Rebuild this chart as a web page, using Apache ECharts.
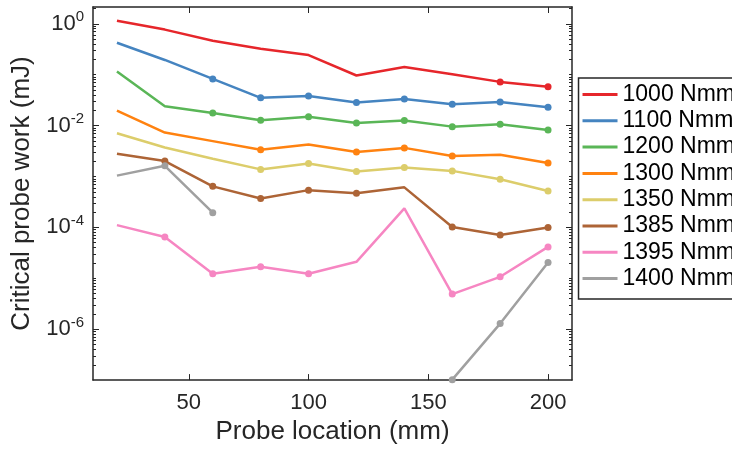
<!DOCTYPE html>
<html>
<head>
<meta charset="utf-8">
<script src="https://cdn.jsdelivr.net/npm/echarts@6/dist/echarts.min.js"></script>
<style>
  html, body { margin: 0; padding: 0; background: #fff; }
  #chart { width: 732px; height: 450px; }
</style>
</head>
<body>
<div id="chart"></div>
<script>
// probe locations (mm)
var probeX = [20, 40, 60, 80, 100, 120, 140, 160, 180, 200];

var seriesNames = ['1000 Nmm', '1100 Nmm', '1200 Nmm', '1300 Nmm', '1350 Nmm', '1385 Nmm', '1395 Nmm', '1400 Nmm'];
var colors = ['#E6262B', '#4584C0', '#5AB657', '#FF8210', '#DCCD6B', '#AD6436', '#F686C2', '#A0A0A0'];

// critical probe work (mJ)
var w1000 = [1.15, 0.77, 0.466, 0.325, 0.243, 0.0965, 0.142, 0.102, 0.0723, 0.0578];
var w1100 = [0.425, 0.195, 0.0828, 0.0352, 0.0382, 0.0284, 0.0332, 0.0264, 0.029, 0.0229];
var w1200 = [0.1155, 0.0239, 0.0177, 0.0127, 0.015, 0.0113, 0.01265, 0.00955, 0.0106, 0.0082];
var w1300 = [0.0196, 0.0073, 0.00496, 0.00335, 0.00426, 0.00302, 0.00365, 0.00252, 0.00268, 0.00184];
var w1350 = [0.0071, 0.00372, 0.00224, 0.00138, 0.00181, 0.00125, 0.00151, 0.00129, 0.00088, 0.00052];
var w1385 = [0.00281, 0.00201, 0.00064, 0.00037, 0.00054, 0.000468, 0.000612, 0.000102, 0.0000711, 0.0001];
var w1395 = [0.000111, 0.000065, 0.0000123, 0.0000169, 0.0000123, 0.0000211, 0.000236, 0.0000049, 0.0000107, 0.0000414];
var w1400 = [0.00104, 0.00162, 0.000195, null, null, null, null, 1.02e-7, 0.00000129, 0.0000204];

// locations that carry a marker
var marks1000 = [180, 200];
var marks1100 = [60, 80, 100, 120, 140, 160, 180, 200];
var marks1200 = [60, 80, 100, 120, 140, 160, 180, 200];
var marks1300 = [80, 120, 140, 160, 200];
var marks1350 = [80, 100, 120, 140, 160, 180, 200];
var marks1385 = [40, 60, 80, 100, 120, 160, 180, 200];
var marks1395 = [40, 60, 80, 100, 160, 180, 200];
var marks1400 = [40, 60, 160, 180, 200];

var xTicks = [50, 100, 150, 200];
var yTicks = [1e-6, 1e-4, 1e-2, 1];

var allWork = [w1000, w1100, w1200, w1300, w1350, w1385, w1395, w1400];
var allMarks = [marks1000, marks1100, marks1200, marks1300, marks1350, marks1385, marks1395, marks1400];

var yMin = 1e-7, yMax = 2.14;
var axisColor = '#262626';
var font = 'Liberation Sans, Arial, Helvetica, sans-serif';

// minor ticks: 1..9 x 10^k that are not labelled
var yMinor = [];
for (var k = -7; k <= 0; k++) {
  for (var m = 1; m <= 9; m++) {
    var v = m * Math.pow(10, k);
    if (v > yMin * 1.001 && v < yMax && yTicks.indexOf(v) < 0) yMinor.push(v);
  }
}

function supLabel(val) {
  var e = Math.round(Math.log10(val));
  return '{b|10}{s|' + (e < 0 ? '-' + (-e) : e) + '}';
}

var chart = echarts.init(document.getElementById('chart'));

var series = seriesNames.map(function (name, i) {
  return {
    name: name,
    type: 'line',
    xAxisIndex: 0,
    yAxisIndex: 0,
    showSymbol: true,
    symbolSize: 7,
    lineStyle: { width: 2.5, color: colors[i] },
    itemStyle: { color: colors[i], borderWidth: 0 },
    emphasis: { disabled: true },
    data: probeX.map(function (x, j) {
      var y = allWork[i][j];
      return {
        value: [x, y == null ? '-' : y],
        symbol: allMarks[i].indexOf(x) >= 0 ? 'circle' : 'none'
      };
    })
  };
});

function yAxisDef(pos, major) {
  return {
    type: 'log',
    logBase: 10,
    position: pos,
    min: yMin,
    max: yMax,
    name: (pos === 'left' && major) ? 'Critical probe work (mJ)' : '',
    nameLocation: 'middle',
    nameGap: 56,
    nameTextStyle: { fontSize: 26, color: axisColor, fontFamily: font },
    axisLine: { show: major, lineStyle: { color: axisColor, width: 1.5 } },
    axisTick: {
      show: true,
      inside: true,
      length: major ? 6 : 3,
      customValues: major ? yTicks : yMinor,
      lineStyle: { color: axisColor, width: 1 }
    },
    axisLabel: {
      show: pos === 'left' && major,
      customValues: yTicks,
      margin: 9,
      formatter: supLabel,
      rich: {
        b: { fontSize: 22, lineHeight: 22, color: axisColor, fontFamily: font, verticalAlign: 'bottom' },
        s: { fontSize: 15, lineHeight: 15, padding: [0, 0, 13, 0], color: axisColor, fontFamily: font }
      }
    },
    splitLine: { show: false }
  };
}

function xAxisDef(pos) {
  return {
    type: 'value',
    position: pos,
    min: 10,
    max: 210,
    name: pos === 'bottom' ? 'Probe location (mm)' : '',
    nameLocation: 'middle',
    nameGap: 38,
    nameTextStyle: { fontSize: 26, color: axisColor, fontFamily: font },
    axisLine: { show: true, onZero: false, lineStyle: { color: axisColor, width: 1.5 } },
    axisTick: {
      show: true,
      inside: true,
      length: 6,
      customValues: xTicks,
      lineStyle: { color: axisColor, width: 1 }
    },
    axisLabel: {
      show: pos === 'bottom',
      customValues: xTicks,
      margin: 12,
      fontSize: 22,
      color: axisColor,
      fontFamily: font
    },
    splitLine: { show: false }
  };
}

var option = {
  animation: false,
  backgroundColor: '#fff',
  grid: { left: 93, top: 7, right: 160, bottom: 67, containLabel: false },
  legend: {
    orient: 'vertical',
    right: -33,
    top: 78,
    padding: [5, 30, 9, 4],
    itemWidth: 35,
    itemHeight: 3,
    itemGap: 3.3,
    icon: 'rect',
    borderColor: '#262626',
    borderWidth: 1.5,
    backgroundColor: '#fff',
    textStyle: { fontSize: 23, lineHeight: 23, color: '#000', fontFamily: font },
    data: seriesNames
  },
  xAxis: [xAxisDef('bottom'), xAxisDef('top')],
  yAxis: [yAxisDef('left', true), yAxisDef('left', false), yAxisDef('right', true), yAxisDef('right', false)],
  series: series
};

chart.setOption(option);
</script>
</body>
</html>
